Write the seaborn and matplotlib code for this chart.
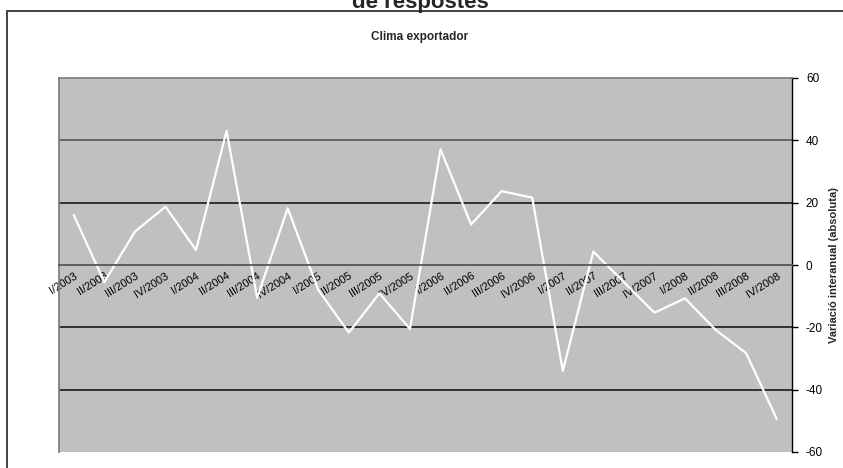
import matplotlib
matplotlib.use("Agg")
import matplotlib.pyplot as plt
import seaborn as sns
import pandas as pd
from matplotlib.patches import Rectangle

# Quarters and year-on-year change
quarters = ["I", "II", "III", "IV"]
years = [2003, 2004, 2005, 2006, 2007, 2008]
labels = [f"{q}/{y}" for y in years for q in quarters]
values = [16.0, -5.5, 10.7, 18.7, 4.8, 43.0,
          -10.5, 18.2, -8.0, -21.7, -9.1, -20.5,
          37.1, 13.0, 23.7, 21.6, -34.0, 4.3,
          -5.5, -15.3, -10.7, -20.8, -28.3, -49.4]

df = pd.DataFrame({"periode": labels, "valor": values})
df["pos"] = range(len(df))

sns.set_style("white")
plt.rcParams['font.family'] = ['Liberation Sans', 'DejaVu Sans']
plt.rcParams['axes.unicode_minus'] = False

fig = plt.figure(figsize=(8.43, 4.68), dpi=100)
W, H = 843, 468
ax = fig.add_axes([58.5 / W, (H - 452) / H, (792 - 58.5) / W, (452 - 78) / H])

# outer frame of the chart object
fig.patches.append(Rectangle((7 / W, -0.1), 1.2, 1 - 11 / H + 0.1,
                             transform=fig.transFigure, fill=False,
                             edgecolor="#333333", linewidth=1.3))

ax.set_facecolor("#c0c0c0")
sns.lineplot(data=df, x="pos", y="valor", color="white", linewidth=1.6, ax=ax)

ax.set_xlim(-0.5, len(df) - 0.5)
ax.set_ylim(-60, 60)
ax.set_yticks(range(-60, 61, 20))
for yv in [-40, -20, 20, 40]:
    ax.axhline(yv, color="#1a1a1a" if yv in (20, -20, -40) else "#555555", linewidth=1.2, zorder=1)

ax.yaxis.tick_right()
ax.yaxis.set_label_position("right")
ax.tick_params(axis="y", direction="out", length=4, width=1, colors="black",
               labelsize=8.5, pad=6, right=True, left=False)

# category axis at zero
ax.spines["bottom"].set_position(("data", 0))
ax.spines["bottom"].set_color("#555555")
ax.spines["bottom"].set_linewidth(1.3)
ax.set_xticks([p - 0.5 for p in range(1, len(df))], minor=False)
ax.set_xticks(df["pos"], minor=True)
ax.set_xticklabels([])
ax.set_xticklabels(df["periode"], minor=True, rotation=32, ha="right",
                   rotation_mode="anchor", fontsize=8, color="black")
ax.tick_params(axis="x", which="major", direction="out", length=4, width=1, colors="#222222")
ax.tick_params(axis="x", which="minor", length=0, pad=4)

for side in ["left", "top"]:
    ax.spines[side].set_color("#808080")
    ax.spines[side].set_linewidth(1.3)
ax.spines["right"].set_color("black")
ax.spines["right"].set_linewidth(1.0)

ax.set_xlabel("")
ax.set_ylabel("Variació interanual (absoluta)", fontsize=8, fontweight="bold", labelpad=4)

fig.text(420 / W, 1 - 37 / H, "Clima exportador", ha="center", va="center",
         fontsize=8.5, fontweight="bold")
fig.text(420 / W, 1 - 8 / H, "de respostes", ha="center", va="baseline",
         fontsize=16, fontweight="bold")

fig.savefig("out.png", dpi=100)
